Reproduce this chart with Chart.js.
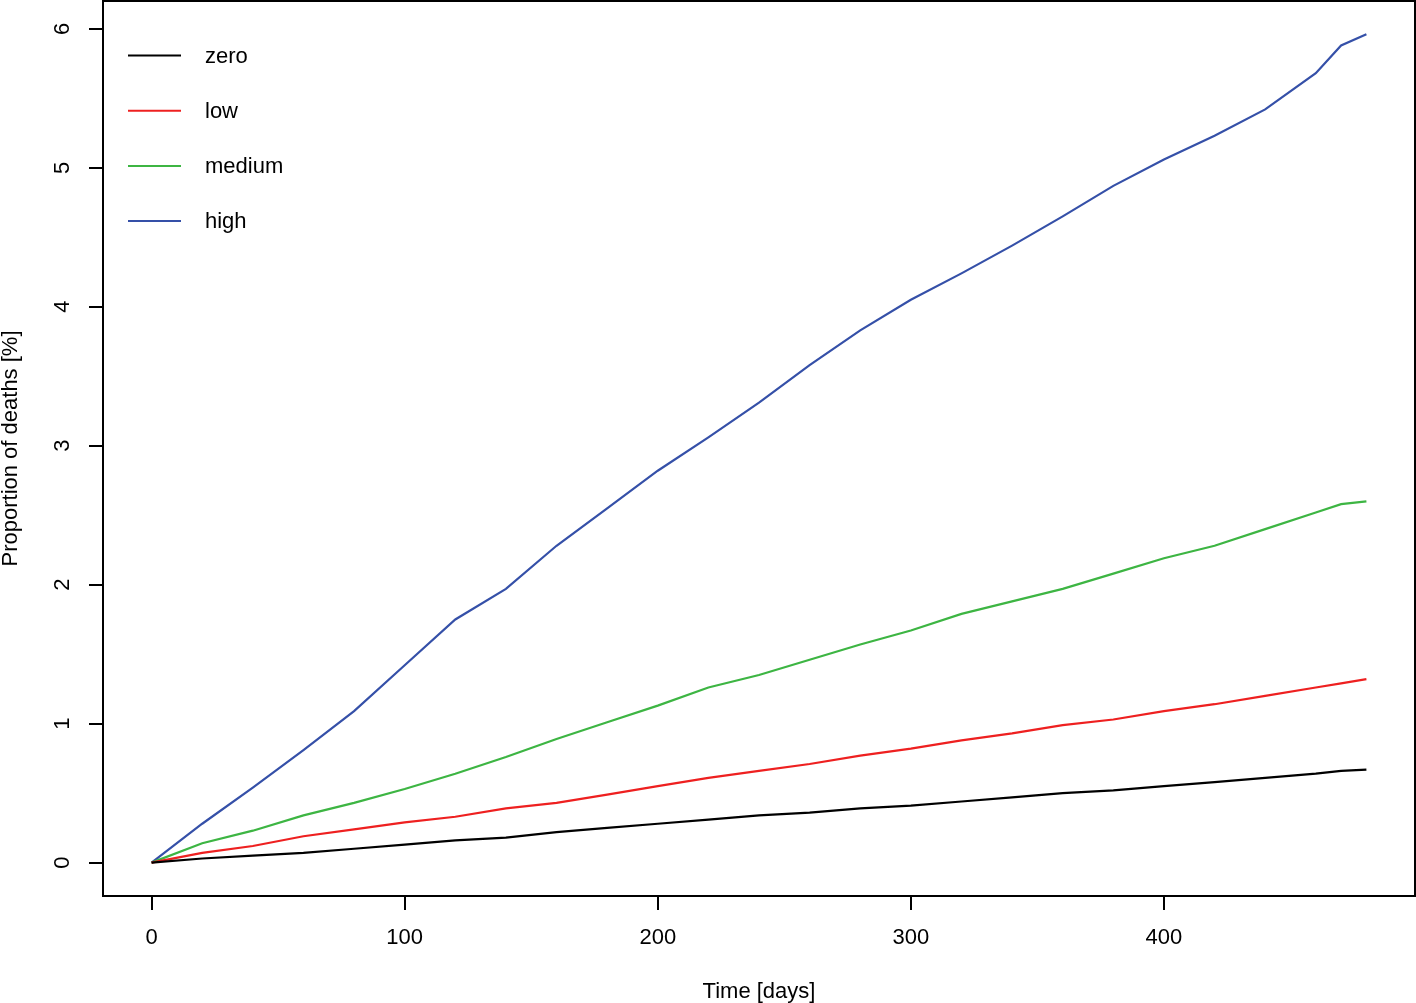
<!DOCTYPE html>
<html>
<head>
<meta charset="utf-8">
<script src="https://cdn.jsdelivr.net/npm/chart.js@4"></script>
<style>
    html, body { margin: 0; padding: 0; background: #fff; }
    #wrap { width: 1416px; height: 1003px; }
</style>
</head>
<body>
<div id="wrap"><canvas id="deathsChart" width="1416" height="1003"></canvas></div>
<script>
// Cumulative proportion of deaths
const days = [0, 20, 40, 60, 80, 100, 120, 140, 160, 180, 200, 220, 240, 260, 280, 300, 320, 340, 360, 380, 400, 420, 440, 460, 470, 480];
const zero = [0, 0.03, 0.05, 0.07, 0.10, 0.13, 0.16, 0.18, 0.22, 0.25, 0.28, 0.31, 0.34, 0.36, 0.39, 0.41, 0.44, 0.47, 0.50, 0.52, 0.55, 0.58, 0.61, 0.64, 0.66, 0.67];
const low = [0, 0.07, 0.12, 0.19, 0.24, 0.29, 0.33, 0.39, 0.43, 0.49, 0.55, 0.61, 0.66, 0.71, 0.77, 0.82, 0.88, 0.93, 0.99, 1.03, 1.09, 1.14, 1.20, 1.26, 1.29, 1.32];
const medium = [0, 0.14, 0.23, 0.34, 0.43, 0.53, 0.64, 0.76, 0.89, 1.01, 1.13, 1.26, 1.35, 1.46, 1.57, 1.67, 1.79, 1.88, 1.97, 2.08, 2.19, 2.28, 2.40, 2.52, 2.58, 2.60];
const high = [0, 0.28, 0.54, 0.81, 1.09, 1.42, 1.75, 1.97, 2.28, 2.55, 2.82, 3.06, 3.31, 3.58, 3.83, 4.05, 4.24, 4.44, 4.65, 4.87, 5.06, 5.23, 5.42, 5.68, 5.88, 5.96];

const seriesNames = ['zero', 'low', 'medium', 'high'];
const xTicks = [0, 100, 200, 300, 400];
const yTicks = [0, 1, 2, 3, 4, 5, 6];

const FONT = '"Liberation Sans", Arial, Helvetica, sans-serif';
const colors = ['#000000', '#ee2020', '#3db543', '#3550a8'];

function pts(values) {
    return days.map((d, i) => ({ x: d, y: values[i] }));
}

// box around the plot region, like R's box()
const frameBox = {
    id: 'frameBox',
    afterDraw(chart) {
        const { ctx, chartArea: a } = chart;
        ctx.save();
        ctx.strokeStyle = '#000';
        ctx.lineWidth = 2;
        ctx.strokeRect(a.left, a.top, a.right - a.left, a.bottom - a.top);
        ctx.restore();
    }
};

// rotated y tick labels (R default las=0)
const yLabels = {
    id: 'yLabels',
    afterDraw(chart) {
        const { ctx } = chart;
        const y = chart.scales.y;
        ctx.save();
        ctx.fillStyle = '#000';
        ctx.font = '22px ' + FONT;
        ctx.textAlign = 'center';
        ctx.textBaseline = 'middle';
        y.ticks.forEach(t => {
            ctx.save();
            ctx.translate(63, y.getPixelForValue(t.value));
            ctx.rotate(-Math.PI / 2);
            ctx.fillText(String(t.value), 0, 0);
            ctx.restore();
        });
        ctx.restore();
    }
};

// legend inside the plot, top-left
const innerLegend = {
    id: 'innerLegend',
    afterDraw(chart) {
        const { ctx } = chart;
        ctx.save();
        ctx.font = '22px ' + FONT;
        ctx.textBaseline = 'middle';
        chart.data.datasets.forEach((ds, i) => {
            const yy = 55.5 + i * 55.2;
            ctx.strokeStyle = ds.borderColor;
            ctx.lineWidth = 2;
            ctx.beginPath();
            ctx.moveTo(128, yy);
            ctx.lineTo(181, yy);
            ctx.stroke();
            ctx.fillStyle = '#000';
            ctx.fillText(ds.label, 205, yy + 1);
        });
        ctx.restore();
    }
};

const ctx = document.getElementById('deathsChart');
new Chart(ctx, {
    type: 'line',
    data: {
        datasets: [zero, low, medium, high].map((vals, i) => ({
            label: seriesNames[i],
            data: pts(vals),
            borderColor: colors[i],
            borderWidth: 2.2,
            pointRadius: 0,
            tension: 0,
            fill: false
        }))
    },
    options: {
        responsive: false,
        animation: false,
        layout: { padding: { top: 1, right: 1, left: 0, bottom: 0 } },
        plugins: {
            legend: { display: false },
            tooltip: { enabled: false }
        },
        scales: {
            x: {
                type: 'linear',
                min: -19.2,
                max: 499.2,
                afterBuildTicks: s => { s.ticks = xTicks.map(v => ({ value: v })); },
                afterFit: s => { s.height = 1003 - 896; },
                border: { display: false },
                grid: { drawOnChartArea: false, drawTicks: true, tickLength: 14, color: '#000', lineWidth: 2 },
                ticks: { color: '#000', padding: 15, maxRotation: 0, font: { family: FONT, size: 22 } },
                title: {
                    display: true,
                    text: 'Time [days]',
                    color: '#000',
                    padding: { top: 0, bottom: -2 },
                    font: { family: FONT, size: 22, lineHeight: 1.2 }
                }
            },
            y: {
                type: 'linear',
                min: -0.24,
                max: 6.2,
                afterBuildTicks: s => { s.ticks = yTicks.map(v => ({ value: v })); },
                afterFit: s => { s.width = 103; },
                border: { display: false },
                grid: { drawOnChartArea: false, drawTicks: true, tickLength: 14, color: '#000', lineWidth: 2 },
                ticks: { display: false },
                title: {
                    display: true,
                    text: 'Proportion of deaths [%]',
                    color: '#000',
                    padding: { top: 0, bottom: 0 },
                    font: { family: FONT, size: 22, lineHeight: 1.0 }
                }
            }
        }
    },
    plugins: [frameBox, yLabels, innerLegend]
});
</script>
</body>
</html>
